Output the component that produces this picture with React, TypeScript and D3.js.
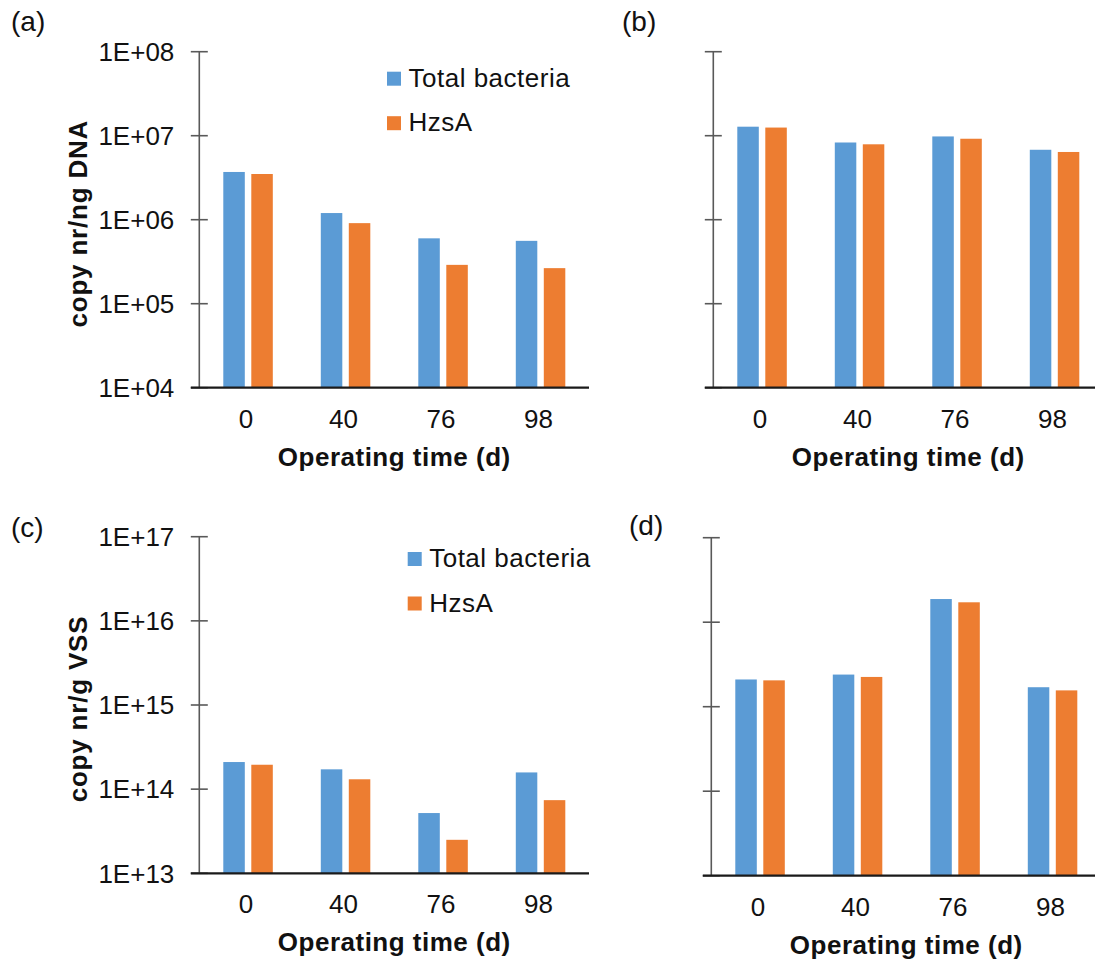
import React from "react";
import * as d3 from "d3";

const categories = ["0", "40", "76", "98"];
const seriesNames = ["Total bacteria", "HzsA"];
const seriesColors = ["#5B9BD5", "#ED7D31"];

// copy nr/ng DNA
const dnaTotalA = [3.7e6, 1.2e6, 6.0e5, 5.6e5];
const dnaHzsAA = [3.5e6, 9.1e5, 2.9e5, 2.65e5];
const dnaTotalB = [1.28e7, 8.3e6, 9.8e6, 6.8e6];
const dnaHzsAB = [1.25e7, 7.9e6, 9.2e6, 6.4e6];

// copy nr/g VSS
const vssTotalC = [2.1e14, 1.72e14, 5.2e13, 1.58e14];
const vssHzsAC = [1.95e14, 1.31e14, 2.5e13, 7.4e13];
const vssTotalD = [2.1e15, 2.4e15, 1.88e16, 1.7e15];
const vssHzsAD = [2.05e15, 2.25e15, 1.72e16, 1.56e15];

const dnaTickValues = [1e4, 1e5, 1e6, 1e7, 1e8];
const dnaTickLabels = ["1E+04", "1E+05", "1E+06", "1E+07", "1E+08"];
const vssTickValues = [1e13, 1e14, 1e15, 1e16, 1e17];
const vssTickLabels = ["1E+13", "1E+14", "1E+15", "1E+16", "1E+17"];

const FONT = "'Liberation Sans', Arial, Helvetica, sans-serif";

type PanelProps = {
  tag: string;
  tagX: number;
  tagY: number;
  axisX: number;
  top: number;
  bottom: number;
  xEnd: number;
  domain: [number, number];
  tickValues: number[];
  tickLabels: string[] | null;
  series: number[][];
  yTitle: string | null;
  legend: { x: number; y: number } | null;
};

function Panel(p: PanelProps) {
  const y = d3.scaleLog().domain(p.domain).range([p.bottom, p.top]);
  const x = d3
    .scaleBand<string>()
    .domain(categories)
    .range([p.axisX, p.axisX + 390])
    .padding(0);
  const inner = d3
    .scaleBand<string>()
    .domain(seriesNames)
    .range([0, x.bandwidth()])
    .paddingInner(0.232)
    .paddingOuter(0.857);
  const plotCenter = p.axisX + 195;

  return (
    <g>
      <text x={p.tagX} y={p.tagY} fontSize={28} fontFamily={FONT} fill="#111">
        {p.tag}
      </text>
      {p.series.map((vals, si) =>
        vals.map((v, ci) => (
          <rect
            key={`${si}-${ci}`}
            x={(x(categories[ci]) ?? 0) + (inner(seriesNames[si]) ?? 0)}
            y={y(v)}
            width={inner.bandwidth()}
            height={p.bottom - y(v)}
            fill={seriesColors[si]}
          />
        ))
      )}
      <line x1={p.axisX} x2={p.axisX} y1={p.top} y2={p.bottom} stroke="#595959" strokeWidth={1.6} />
      {p.tickValues.map((t, i) => (
        <g key={i}>
          <line
            x1={p.axisX - 8.5}
            x2={p.axisX + 8.5}
            y1={y(t)}
            y2={y(t)}
            stroke="#595959"
            strokeWidth={1.6}
          />
          {p.tickLabels && (
            <text
              x={p.axisX - 25}
              y={y(t) + 9.3}
              textAnchor="end"
              fontSize={26}
              fontFamily={FONT}
              fill="#111"
            >
              {p.tickLabels[i]}
            </text>
          )}
        </g>
      ))}
      <line x1={p.axisX - 8.5} x2={p.xEnd} y1={p.bottom} y2={p.bottom} stroke="#1a1a1a" strokeWidth={2.2} />
      {categories.map((c) => (
        <text
          key={c}
          x={(x(c) ?? 0) + x.bandwidth() / 2 - 2}
          y={p.bottom + 40}
          textAnchor="middle"
          fontSize={26}
          fontFamily={FONT}
          fill="#111"
        >
          {c}
        </text>
      ))}
      <text
        x={plotCenter}
        y={p.bottom + 78}
        textAnchor="middle"
        fontSize={26}
        fontWeight="bold"
        letterSpacing={0.5}
        fontFamily={FONT}
        fill="#111"
      >
        Operating time (d)
      </text>
      {p.yTitle && (
        <text
          transform={`translate(87,${(p.top + p.bottom) / 2 + 4}) rotate(-90)`}
          textAnchor="middle"
          fontSize={26}
          fontWeight="bold"
          letterSpacing={0.8}
          fontFamily={FONT}
          fill="#111"
        >
          {p.yTitle}
        </text>
      )}
      {p.legend &&
        seriesNames.map((s, i) => (
          <g key={s}>
            <rect
              x={p.legend!.x}
              y={p.legend!.y + i * 44.5}
              width={14}
              height={14}
              fill={seriesColors[i]}
            />
            <text
              x={p.legend!.x + 21.5}
              y={p.legend!.y + i * 44.5 + 15}
              fontSize={26}
              letterSpacing={0.5}
              fontFamily={FONT}
              fill="#111"
            >
              {s}
            </text>
          </g>
        ))}
    </g>
  );
}

export default function App() {
  return (
    <svg
      width={1095}
      height={965}
      style={{ position: "absolute", left: 0, top: 0, display: "block", background: "#fff" }}
    >
      <rect width={1095} height={965} fill="#fff" />
      <Panel
        tag="(a)"
        tagX={11}
        tagY={31}
        axisX={199.3}
        top={51.7}
        bottom={387.7}
        xEnd={589}
        domain={[1e4, 1e8]}
        tickValues={dnaTickValues}
        tickLabels={dnaTickLabels}
        series={[dnaTotalA, dnaHzsAA]}
        yTitle="copy nr/ng DNA"
        legend={{ x: 387, y: 71.7 }}
      />
      <Panel
        tag="(b)"
        tagX={622}
        tagY={31}
        axisX={713.3}
        top={51.7}
        bottom={387.7}
        xEnd={1100}
        domain={[1e4, 1e8]}
        tickValues={dnaTickValues}
        tickLabels={null}
        series={[dnaTotalB, dnaHzsAB]}
        yTitle={null}
        legend={null}
      />
      <Panel
        tag="(c)"
        tagX={11}
        tagY={537}
        axisX={199.3}
        top={536.7}
        bottom={873.3}
        xEnd={589}
        domain={[1e13, 1e17]}
        tickValues={vssTickValues}
        tickLabels={vssTickLabels}
        series={[vssTotalC, vssHzsAC]}
        yTitle="copy nr/g VSS"
        legend={{ x: 407.7, y: 552 }}
      />
      <Panel
        tag="(d)"
        tagX={629}
        tagY={535}
        axisX={711.3}
        top={537.7}
        bottom={875.7}
        xEnd={1100}
        domain={[1e13, 1e17]}
        tickValues={vssTickValues}
        tickLabels={null}
        series={[vssTotalD, vssHzsAD]}
        yTitle={null}
        legend={null}
      />
    </svg>
  );
}
